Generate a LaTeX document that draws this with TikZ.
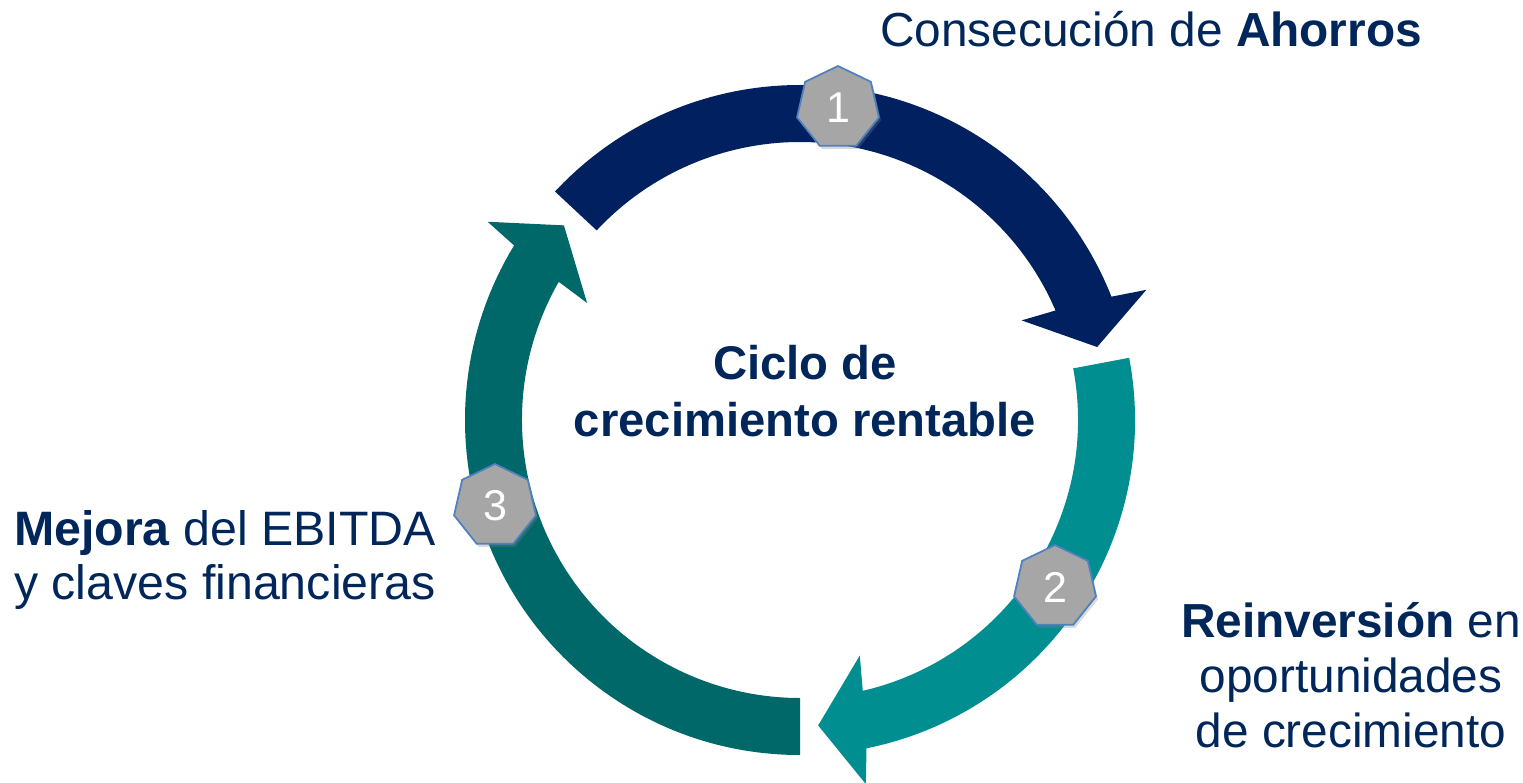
\documentclass[tikz,border=0pt]{standalone}
\usepackage{fontspec}
\setmainfont{Liberation Sans}
\usepackage{xcolor}
\usepackage{tikz}
\usetikzlibrary{shapes.geometric,shadows}

\definecolor{ahorroblue}{HTML}{002060}
\definecolor{reinvteal}{HTML}{008E90}
\definecolor{mejorateal}{HTML}{006868}
\definecolor{labelblue}{HTML}{00265A}
\definecolor{badgegray}{HTML}{A6A6A6}
\definecolor{badgeedge}{HTML}{4F81BD}

\begin{document}
\begin{tikzpicture}[x=0.02cm, y=0.02cm,
	badge/.style={regular polygon, regular polygon sides=7, minimum size=1.68cm, inner sep=0pt,
		fill=badgegray, draw=badgeedge, line width=1pt, text=white,
		font=\fontsize{24.5}{24.5}\selectfont,
		drop shadow={shadow xshift=0.4mm, shadow yshift=-0.6mm, opacity=0.3}},
	label text/.style={text=labelblue, align=center, inner sep=0pt}]

\useasboundingbox (0,0) rectangle (1523,782);
\coordinate (C) at (800,362);

% the three arrows of the cycle
\begin{scope}[shift={(C)}]
\fill[ahorroblue] (137:335) arc[start angle=137, end angle=21.6, radius=335] -- (20.6:370) -- (13.8:306)
	-- (24.2:243) -- (23.2:278) arc[start angle=23.2, end angle=137, radius=278] -- cycle;
\fill[reinvteal] (10.7:335) arc[start angle=10.7, end angle=-78.55, radius=335] -- (-79.75:370) -- (-86.6:306)
	-- (-75.75:243) -- (-76.95:278) arc[start angle=-76.95, end angle=10.7, radius=278] -- cycle;
\fill[mejorateal] (270:335) arc[start angle=270, end angle=148.6, radius=335] -- (147.6:370) -- (140.5:306)
	-- (151.2:243) -- (150.2:278) arc[start angle=150.2, end angle=270, radius=278] -- cycle;
\end{scope}

% numbered steps
\node[badge] (s1) at (838,674) {1};
\node[badge] (s2) at (1055,195) {2};
\node[badge] (s3) at (495,276) {3};

% labels
\node[label text, anchor=base, font=\fontsize{27.2}{30}\selectfont] (ahorros) at (1151,735)
	{Consecución de \textbf{Ahorros}};
\node[label text, font=\fontsize{26.9}{32}\selectfont\bfseries] (ciclo) at (805,391)
	{Ciclo de\\crecimiento rentable};
\node[label text, font=\fontsize{27.5}{31.3}\selectfont] (mejora) at (225,222)
	{\textbf{Mejora} del EBITDA\\y claves financieras};
\node[label text, font=\fontsize{27.2}{31.3}\selectfont] (reinv) at (1351,107)
	{\textbf{Reinversión} en\\oportunidades\\de crecimiento};

\end{tikzpicture}
\end{document}
